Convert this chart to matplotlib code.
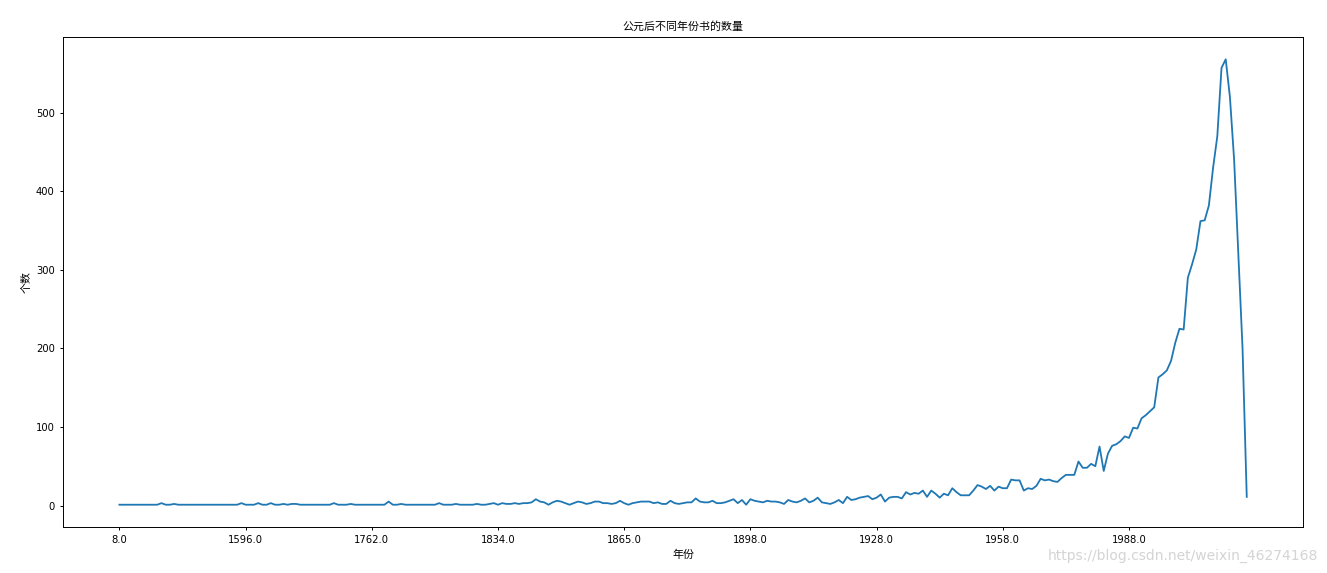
import matplotlib.pyplot as plt

plt.rcParams['font.family'] = ['Noto Sans CJK SC', 'DejaVu Sans']

# tick labels shown every 30 points
tick_years = ['8.0', '1596.0', '1762.0', '1834.0', '1865.0',
              '1898.0', '1928.0', '1958.0', '1988.0']

# number of books per year, 269 points
counts_early = [1, 1, 1, 1, 1, 1, 1, 1, 1, 1, 3, 1, 1, 2, 1, 1, 1, 1, 1, 1,
                1, 1, 1, 1, 1, 1, 1, 1, 1, 3, 1, 1, 1, 3, 1, 1, 3, 1, 1, 2,
                1, 2, 2, 1, 1, 1, 1, 1, 1, 1, 1, 3, 1, 1, 1, 2, 1, 1, 1, 1,
                1, 1, 1, 1, 5, 1, 1, 2, 1, 1, 1, 1, 1, 1, 1, 1, 3, 1, 1, 1,
                2, 1, 1, 1, 1, 2, 1, 1, 2, 3, 1, 3, 2, 2, 3, 2, 3, 3, 4, 8,
                5, 4, 1, 4, 6]
counts_mid = [5, 3, 1, 3, 5, 4, 2, 3, 5, 5, 3, 3, 2, 3, 6, 3, 1, 3, 4, 5,
              5, 5, 3, 4, 2, 2, 6, 3, 2, 3, 4, 4, 9, 5, 4, 4, 6, 3, 3, 4,
              6, 8, 3, 7, 1, 8, 6, 5, 4, 6]
counts_late = [5, 5, 4, 2, 7, 5, 4, 6, 9, 4, 6, 10, 4, 3, 2, 4, 7, 3, 11, 7,
               8, 10, 11, 12, 8, 10, 14, 5, 10, 11, 11, 9, 17, 14, 16, 15, 19, 11, 19, 15,
               10, 15, 13, 22, 17, 13, 13, 13, 19, 26]
counts_recent = [24, 21, 25, 19, 24, 22, 22, 33, 32, 32, 19, 22, 21, 25, 34, 32, 33, 31, 30, 35,
                 39, 39, 39, 56, 48, 48, 53, 50, 75, 44, 66, 76, 78, 82, 88, 86, 99, 98, 111, 115,
                 120, 125, 163, 167, 172, 184, 207, 225, 224, 290, 307, 326, 362, 363, 382, 430, 470, 557, 568, 520,
                 440, 320, 200, 11]

counts = counts_early + counts_mid + counts_late + counts_recent

fig = plt.figure(figsize=(13.27, 5.73), dpi=100)
ax = fig.add_axes([0.0475, 0.0803, 0.9345, 0.8551])

ax.plot(range(len(counts)), counts, color='#1f77b4', linewidth=1.3)
ax.set_xticks(range(0, len(counts), 30))
ax.set_xticklabels(tick_years)
ax.tick_params(labelsize=7.2, width=0.7, length=2.5)
for lbl in ax.get_xticklabels() + ax.get_yticklabels():
    lbl.set_family('DejaVu Sans')
for s in ax.spines.values():
    s.set_linewidth(0.7)

ax.set_title('公元后不同年份书的数量', fontsize=7.9, pad=5)
ax.set_xlabel('年份', fontsize=7.9, labelpad=3)
ax.set_ylabel('个数', fontsize=7.9, labelpad=3)

fig.text(0.993, 0.018, 'https://blog.csdn.net/weixin_46274168', ha='right', va='bottom',
         fontsize=10, color='#d4d4d4', family=['DejaVu Sans'])

fig.savefig('out.png', dpi=100)
